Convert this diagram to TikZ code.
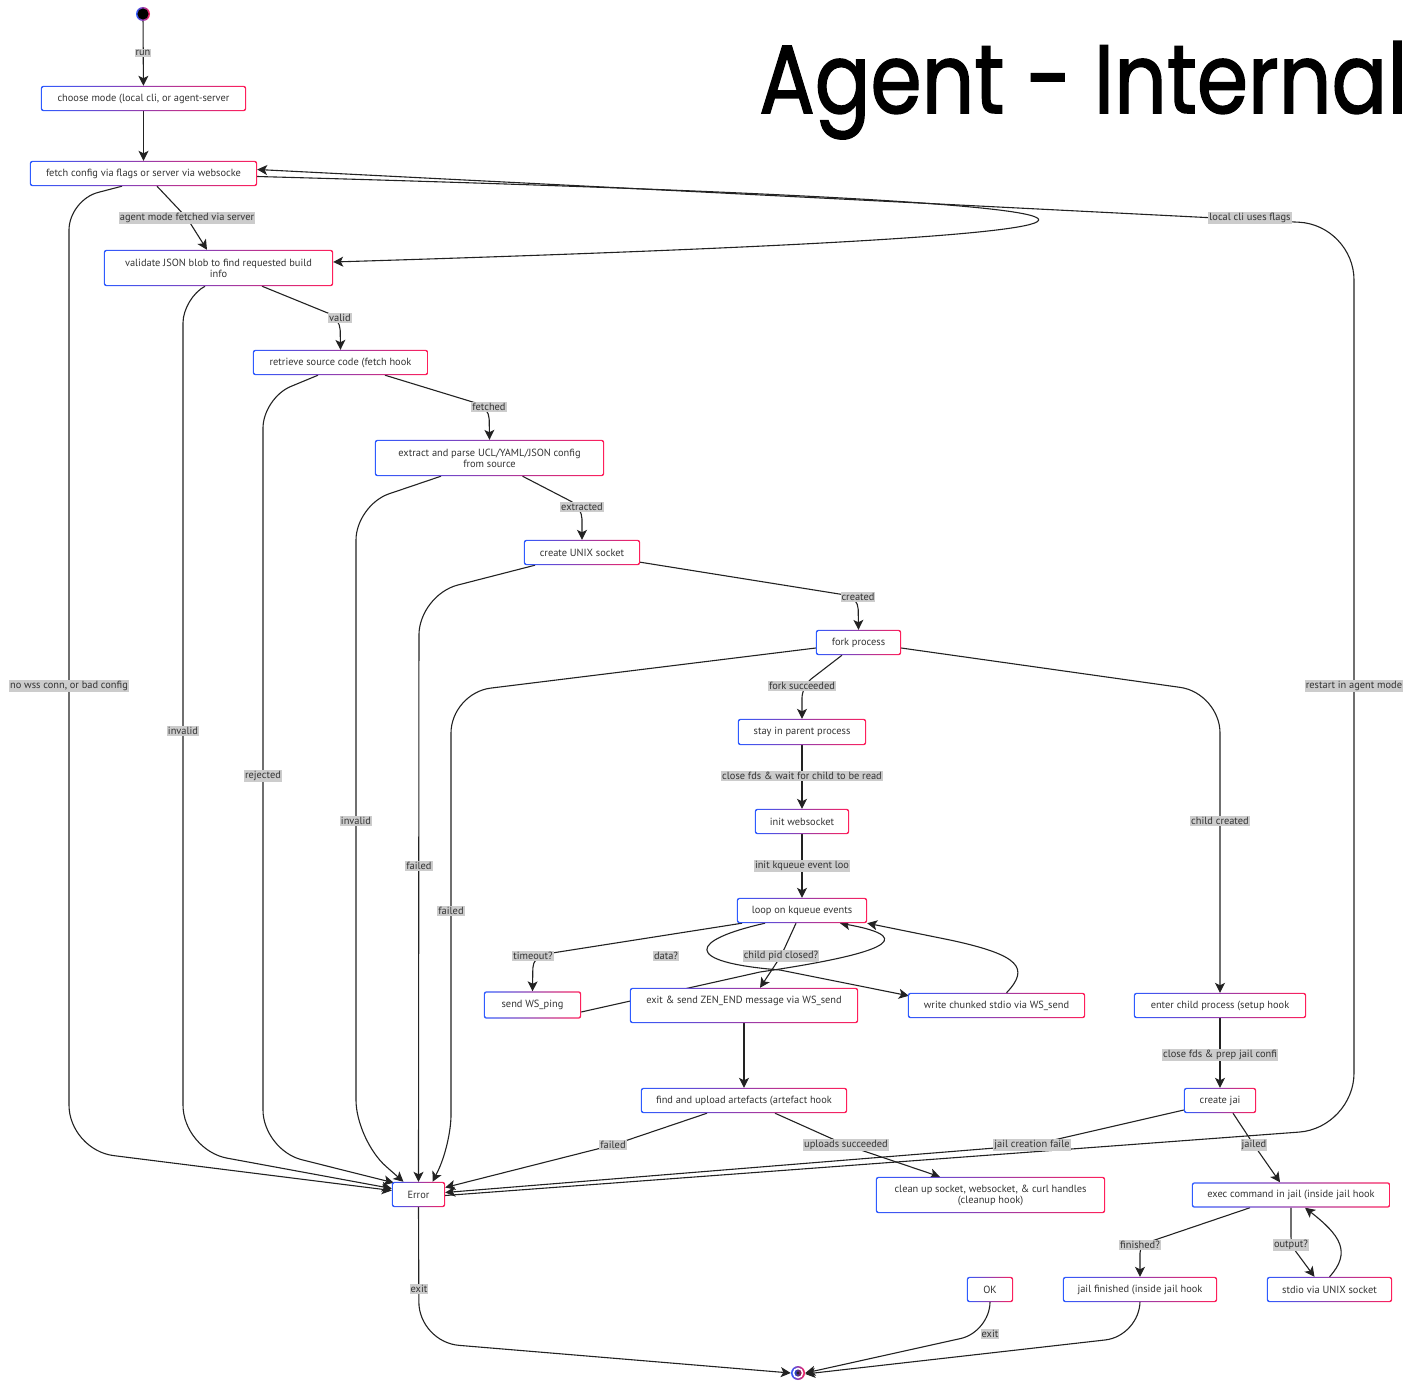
\documentclass[tikz,border=0pt]{standalone}
\usepackage{fontspec}
\setmainfont{PT Sans}
\newfontfamily\titlefont{Poppins}[FakeBold=1.6]
\usetikzlibrary{arrows.meta}
\definecolor{txt}{HTML}{333333}
\definecolor{lblbg}{HTML}{CCCCCC}
\definecolor{edgec}{HTML}{222222}
\definecolor{gl}{HTML}{2E5BFF}
\definecolor{gr}{HTML}{FF1F5A}
\pgfdeclarelayer{edges}\pgfdeclarelayer{boxes}
\pgfsetlayers{edges,boxes,main}
\newcommand\stf{\fontsize{10.4}{11}\selectfont}
\tikzset{
  st/.style={rectangle, inner sep=0pt, font=\stf, text=txt, align=center},
  bx/.style 2 args={st, minimum width=#1pt, minimum height=#2pt},
  lbl/.style={fill=lblbg, font=\stf, text=txt, inner xsep=1pt, inner ysep=1.5pt},
  edge/.style={draw=edgec, line width=1.1pt, -{Stealth[length=10pt,width=10pt,inset=2.5pt]}},
  ln/.style={draw=edgec, line width=1.1pt},
}
\begin{document}
\begin{tikzpicture}[x=1pt,y=-1pt]
\useasboundingbox (0,0) rectangle (1405,1381);
% title
\node[anchor=base west, inner sep=0pt, font=\titlefont\fontsize{97}{97}\selectfont] (title) at (759,113) {\scalebox{0.85}[1]{Agent - Internal}};
% states
\node[circle, minimum size=14pt, inner sep=0pt] (start) at (143,14) {};
\node[circle, minimum size=14pt, inner sep=0pt] (end) at (798,1373) {};
\node[bx={205}{25}] (choose) at (143.5,98.5) {choose mode (local cli, or agent-server};
\node[bx={227}{25}] (fetch) at (143.5,173.5) {fetch config via flags or server via websocke};
\node[bx={229}{36}] (validate) at (218.5,268) {validate JSON blob to find requested build\\info};
\node[bx={175}{25}] (retrieve) at (340.5,362.5) {retrieve source code (fetch hook};
\node[bx={229}{36}] (extract) at (489.5,458) {extract and parse UCL/YAML/JSON config\\from source};
\node[bx={116}{25}] (socket) at (582,552.5) {create UNIX socket};
\node[bx={85}{25}] (fork) at (858.5,642.5) {fork process};
\node[bx={128}{26}] (parent) at (802,732) {stay in parent process};
\node[bx={94}{25}] (initws) at (802,821.5) {init websocket};
\node[bx={130}{25}] (loop) at (802,910.5) {loop on kqueue events};
\node[bx={97}{27}] (ping) at (532.5,1005) {send WS\_ping};
\node[bx={228}{35}] (exit) at (744,1005.5) {exit \& send ZEN\_END message via WS\_send\\\mbox{}};
\node[bx={177}{25}] (write) at (996.5,1005.5) {write chunked stdio via WS\_send};
\node[bx={172}{25}] (child) at (1220,1005.5) {enter child process (setup hook};
\node[bx={206}{25}] (upload) at (744,1100.5) {find and upload artefacts (artefact hook};
\node[bx={72}{25}] (jail) at (1220,1100.5) {create jai};
\node[bx={53}{25}] (error) at (418.5,1194.5) {Error};
\node[bx={229}{36}] (cleanup) at (990.5,1195) {clean up socket, websocket, \& curl handles\\(cleanup hook)};
\node[bx={198}{25}] (exec) at (1291,1195) {exec command in jail (inside jail hook};
\node[bx={46}{25}] (ok) at (990,1289.5) {OK};
\node[bx={154}{25}] (finished) at (1140,1289.5) {jail finished (inside jail hook};
\node[bx={125}{25}] (stdio) at (1329.5,1289.5) {stdio via UNIX socket};
% labels
\node[lbl] (lrun) at (143,53) {run};
\node[lbl] (lagent) at (187,218) {agent mode fetched via server};
\node[lbl] (lnowss) at (69,686) {no wss conn, or bad config};
\node[lbl] (linv1) at (183,731) {invalid};
\node[lbl] (lvalid) at (340,318) {valid};
\node[lbl] (lfetched) at (489,407) {fetched};
\node[lbl] (lrej) at (263,776) {rejected};
\node[lbl] (lextr) at (582,507) {extracted};
\node[lbl] (linv2) at (356,821) {invalid};
\node[lbl] (lcreated) at (858,597) {created};
\node[lbl] (lfail1) at (419,866) {failed};
\node[lbl] (lforkok) at (802,686) {fork succeeded};
\node[lbl] (lfail2) at (451,911) {failed};
\node[lbl] (lchild) at (1220,821) {child created};
\node[lbl] (lwait) at (802,776) {close fds \& wait for child to be read};
\node[lbl] (lkq) at (802,866) {init kqueue event loo};
\node[lbl] (ltime) at (533,956) {timeout?};
\node[lbl] (ldata) at (666,956) {data?};
\node[lbl] (lpid) at (781,956) {child pid closed?};
\node[lbl] (lfail3) at (613,1145) {failed};
\node[lbl] (lupok) at (846,1145) {uploads succeeded};
\node[lbl] (lprep) at (1220,1055) {close fds \& prep jail confi};
\node[lbl] (ljailf) at (1032,1145) {jail creation faile};
\node[lbl] (ljailed) at (1254,1145) {jailed};
\node[lbl] (lexit1) at (419,1289) {exit};
\node[lbl] (lexit2) at (990,1334) {exit};
\node[lbl] (lfin) at (1140,1245) {finished?};
\node[lbl] (lout) at (1291,1245) {output?};
\node[lbl] (llocal) at (1250,218) {local cli uses flags};
\node[lbl] (lrestart) at (1354,686) {restart in agent mode};

\begin{pgfonlayer}{edges}
\draw[edge] (start) -- (choose);
\draw[edge] (choose) -- (fetch);
\draw[edge, rounded corners=6pt] ([xshift=13.5pt]fetch.south) -- (lagent.center) -- ([xshift=-11.5pt]validate.north);
\draw[edge, rounded corners=30pt] ([xshift=-21.5pt]fetch.south) -- (69,200) [rounded corners=45pt] -- (69,1150) -- ([yshift=4pt]error.west);
\draw[edge, rounded corners=25pt] ([xshift=-13.5pt]validate.south) -- (183,298) [rounded corners=45pt] -- (183,1150) -- ([yshift=6pt]error.west);
\draw[edge, rounded corners=12pt] ([xshift=43.5pt]validate.south) -- (lvalid.center) -- (retrieve.north);
\draw[edge, rounded corners=30pt] ([xshift=-22.5pt]retrieve.south) -- (263,398) [rounded corners=40pt] -- (263,1150) -- ([xshift=2pt,yshift=-1pt]error.north west);
\draw[edge, rounded corners=12pt] ([xshift=44.5pt]retrieve.south) -- (lfetched.center) -- (extract.north);
\draw[edge, rounded corners=35pt] ([xshift=-48.5pt]extract.south) -- (356,505) [rounded corners=40pt] -- (356,1140) -- ([xshift=-15pt]error.north);
\draw[edge, rounded corners=12pt] ([xshift=33pt]extract.south) -- (lextr.center) -- (socket.north);
\draw[edge, rounded corners=40pt] ([xshift=-47pt]socket.south) -- (419,595) -- (error.north);
\draw[edge, rounded corners=12pt] ([yshift=3pt]socket.south east) -- (lcreated.center) -- (fork.north);
\draw[edge, rounded corners=12pt] ([xshift=-16.5pt]fork.south) -- (lforkok.center) -- (parent.north);
\draw[edge, rounded corners=40pt] ([yshift=-5.5pt]fork.west) -- (451,693) [rounded corners=30pt] -- (451,1145) -- ([xshift=14pt]error.north);
\draw[edge, rounded corners=40pt] ([yshift=-5.5pt]fork.east) -- (1220,693) -- (child.north);
\draw[edge] (parent) -- (initws);
\draw[edge] (initws) -- (loop);
\draw[edge, rounded corners=12pt] ([xshift=-60pt]loop.south) -- (ltime.center) -- (ping.north);
\draw[edge] ([xshift=-37pt]loop.south) .. controls (690,940) and (680,962) .. (780,970) -- ([xshift=1pt,yshift=-3pt]write.north west);
\draw[edge, rounded corners=8pt] ([xshift=-6pt]loop.south) -- (lpid.center) -- ([xshift=16pt]exit.north);
\draw[edge] ([yshift=-7pt]ping.east) -- (760,972) .. controls (910,950) and (905,935) .. ([xshift=38pt]loop.south);
\draw[edge] ([xshift=10pt]write.north) .. controls (1030,968) and (1020,955) .. (950,940) -- (loop.south east);
\draw[edge] (exit) -- (upload);
\draw[edge, rounded corners=8pt] ([xshift=-37pt]upload.south) -- (lfail3.center) -- ([yshift=7pt]error.east);
\draw[edge, rounded corners=8pt] ([xshift=31pt]upload.south) -- (lupok.center) -- ([xshift=-50.5pt]cleanup.north);
\draw[edge] (child) -- (jail);
\draw[edge, rounded corners=8pt] ([yshift=-9.5pt]jail.west) -- (ljailf.center) -- ([yshift=2pt]error.east);
\draw[edge, rounded corners=8pt] ([xshift=13pt]jail.south) -- (ljailed.center) -- ([xshift=-11pt]exec.north);
\draw[edge, rounded corners=55pt] ([yshift=-1pt]error.east) -- (1354,1128) -- (1354,225) -- ([yshift=4pt]fetch.east);
\draw[edge] ([yshift=-3pt]fetch.east) .. controls (1290,205) and (1280,233) .. ([yshift=6pt]validate.east);
\draw[edge, rounded corners=40pt] (error.south) -- (419,1342) -- (end.west);
\draw[edge, rounded corners=30pt] (ok.south) -- (990,1332) -- (end.east);
\draw[edge, rounded corners=35pt] (finished.south) -- (1140,1336) -- ([yshift=-1pt]end.east);
\draw[edge, rounded corners=8pt] ([xshift=-41pt]exec.south) -- (lfin.center) -- (finished.north);
\draw[edge, rounded corners=8pt] (exec.south) -- (lout.center) -- ([xshift=-15pt]stdio.north);
\draw[edge] (stdio.north) .. controls (1352,1252) and (1340,1235) .. ([xshift=14pt]exec.south);
\end{pgfonlayer}

\begin{pgfonlayer}{boxes}
\foreach \n in {choose,fetch,validate,retrieve,extract,socket,fork,parent,initws,loop,ping,exit,write,child,upload,jail,error,cleanup,exec,ok,finished,stdio}{
  \shade[left color=gl, right color=gr, rounded corners=2.5pt] (\n.south west) rectangle (\n.north east);
  \fill[white, rounded corners=1.5pt] ([shift={(1.3pt,1.3pt)}]\n.south west) rectangle ([shift={(-1.3pt,-1.3pt)}]\n.north east);
}
\shade[left color=gl, right color=gr] (start.center) circle[radius=7pt];
\fill[black] (start.center) circle[radius=5.6pt];
\shade[left color=gl, right color=gr] (end.center) circle[radius=7pt];
\fill[white] (end.center) circle[radius=5.4pt];
\shade[left color=gl!80!black, right color=gr!60!black] (end.center) circle[radius=3.6pt];
\fill[black!85] (end.center) circle[radius=1.6pt];
\end{pgfonlayer}
\end{tikzpicture}
\end{document}
